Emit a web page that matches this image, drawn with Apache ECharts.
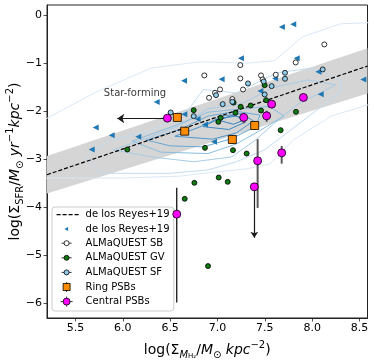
<!DOCTYPE html>
<html>
<head>
<meta charset="utf-8">
<script src="https://cdn.jsdelivr.net/npm/echarts@6/dist/echarts.min.js"></script>
<style>
  html, body { margin: 0; padding: 0; background: #fff; }
  #chart { width: 374px; height: 362px; }
</style>
</head>
<body>
<div id="chart"></div>
<script>
// de los Reyes+19 relation (dashed) and its grey scatter band
var relationX = [5.2, 8.584];
var relationY = [-3.32, -1.06];
var bandUpperY = [-2.93, -0.69];
var bandLowerY = [-3.71, -1.63];

var reyesPoints = [
  [7.68, -0.25], [7.80, -0.19], [7.248, -0.90], [7.836, -0.90], [6.647, -1.366],
  [7.044, -1.332], [8.065, -1.179], [8.54, -1.339], [6.358, -1.81], [7.453, -1.581],
  [8.09, -1.644], [5.714, -2.338], [5.883, -2.497], [6.164, -2.532], [5.672, -2.795],
  [6.65, -2.06], [6.79, -2.16], [6.868, -2.275], [6.963, -2.636], [7.608, -1.318]
];
var sbPoints = [
  [8.128, -0.61], [7.826, -0.985], [7.241, -1.04], [6.861, -1.255], [7.241, -1.318],
  [7.46, -1.255], [7.615, -1.241], [7.477, -1.339], [7.027, -1.547], [6.974, -1.616],
  [7.27, -1.547], [6.911, -1.72], [7.157, -1.748]
];
var gvPoints = [
  [6.048, -2.795], [6.749, -1.977], [7.034, -2.136], [7.009, -2.22], [7.189, -2.032],
  [7.245, -1.907], [7.35, -1.88], [7.46, -1.984], [7.513, -1.769], [7.498, -1.457],
  [7.829, -2.012], [7.667, -2.393], [6.868, -2.761], [7.164, -2.809], [7.308, -2.879],
  [6.756, -3.489], [7.013, -3.378], [7.108, -3.468], [6.654, -3.822], [6.90, -5.22],
  [7.17, -1.82]
];
var sfPoints = [
  [7.713, -1.2], [7.713, -1.325], [8.111, -1.13], [7.322, -1.422], [7.488, -1.38],
  [7.572, -1.477], [7.498, -1.651], [6.985, -1.665], [7.055, -1.852], [7.157, -1.803],
  [6.506, -2.025], [6.749, -2.102]
];
var ringPoints = [[6.576, -2.129], [6.654, -2.414], [7.393, -2.296], [7.157, -2.587]];
var ringErr = [0.07, 0.08, 0.09, 0.09];
var centralPoints = [
  [6.471, -2.143], [7.277, -2.129], [7.572, -1.852], [7.519, -2.095], [7.907, -1.713],
  [7.424, -3.031], [7.678, -2.865], [7.389, -3.572], [6.57, -4.14]
];
// [x, low, high]
var centralGreyBars = [[7.277, -2.25, -2.04], [7.519, -2.22, -1.99], [7.424, -4.01, -2.58], [7.678, -3.09, -2.72]];
var centralBlackBars = [[6.57, -5.98, -3.59]];
var limitArrow = [[7.389, -3.572], [7.389, -4.63]];
var sfArrow = [[6.464, -2.15], [5.942, -2.15]];
var sfLabel = [[6.129, -1.63]];

// density contours, outer to inner
var contourColors = ['#dae8f6', '#c4dcf0', '#a8cce6', '#8abde0', '#68a8d6', '#4f97cc', '#3f89c4', '#3a82c0'];
var contourLevels = [
  [[5.1, -2.25], [5.7, -1.62], [6.3, -1.1], [6.82, -0.97], [7.3, -1.0], [7.6, -0.95], [7.9, -0.45], [8.3, -0.18], [8.7, -0.15],
   [8.7, -1.8], [8.2, -2.1], [7.8, -2.6], [7.55, -3.1], [7.3, -3.2], [6.95, -3.27], [6.6, -3.35], [6.0, -3.39], [5.1, -3.39], [5.1, -2.25]],
  [[5.6, -2.95], [5.87, -2.6], [6.26, -2.43], [6.47, -2.25], [6.7, -1.95], [6.85, -1.55], [7.2, -1.62], [7.63, -1.2], [8.0, -1.1], [8.3, -1.35],
   [8.3, -1.6], [8.1, -1.9], [7.8, -2.35], [7.5, -2.8], [7.2, -3.05], [6.9, -3.22], [6.5, -3.29], [5.76, -3.29], [5.6, -2.95]],
  [[5.9, -2.8], [6.2, -2.6], [6.6, -2.3], [6.9, -1.95], [7.25, -1.85], [7.6, -1.5], [7.95, -1.35], [8.25, -1.45], [7.85, -1.85],
   [7.6, -2.25], [7.4, -2.6], [7.15, -2.95], [6.75, -3.05], [6.3, -2.95], [5.9, -2.8]],
  [[6.1, -2.62], [6.55, -2.3], [6.9, -2.02], [7.25, -1.95], [7.55, -1.9], [7.7, -2.1], [7.45, -2.4], [7.2, -2.68], [6.9, -2.88], [6.4, -2.85], [6.1, -2.62]],
  [[6.25, -2.6], [6.6, -2.38], [6.9, -2.1], [7.2, -2.0], [7.45, -2.08], [7.4, -2.32], [7.15, -2.57], [6.85, -2.74], [6.5, -2.72], [6.25, -2.6]],
  [[6.55, -2.52], [6.85, -2.3], [7.05, -2.1], [7.25, -2.05], [7.38, -2.2], [7.2, -2.45], [6.95, -2.58], [6.55, -2.52]],
  [[6.85, -2.32], [7.02, -2.15], [7.2, -2.1], [7.3, -2.22], [7.12, -2.38], [6.85, -2.32]],
  [[7.01, -2.185], [7.168, -2.08], [7.3, -2.17], [7.168, -2.27], [7.01, -2.185]]
];

var xTicks = [5.5, 6.0, 6.5, 7.0, 7.5, 8.0, 8.5];
var yTicks = [-6, -5, -4, -3, -2, -1, 0];

var FONT = 'DejaVu Sans';

function minus(v, digits) {
  var s = Math.abs(v).toFixed(digits);
  return (v < 0 ? '\u2212' : '') + s;
}

function barRender(color, width) {
  return function (params, api) {
    var top = api.coord([api.value(0), api.value(2)]);
    var bot = api.coord([api.value(0), api.value(1)]);
    return {
      type: 'line',
      shape: { x1: top[0], y1: top[1], x2: bot[0], y2: bot[1] },
      style: { stroke: color, lineWidth: width }
    };
  };
}

var ringBars = ringPoints.map(function (p, i) { return [p[0], p[1] - ringErr[i], p[1] + ringErr[i]]; });

var mathRich = {
  a: { fontFamily: FONT, fontSize: 14, lineHeight: 20, color: '#000' },
  i: { fontFamily: FONT, fontSize: 14, lineHeight: 20, fontStyle: 'italic', color: '#000' },
  b: { fontFamily: FONT, fontSize: 10, lineHeight: 12, verticalAlign: 'bottom', color: '#000' },
  bi: { fontFamily: FONT, fontSize: 10, lineHeight: 12, verticalAlign: 'bottom', fontStyle: 'italic', color: '#000' },
  c: { fontFamily: FONT, fontSize: 10, lineHeight: 12, verticalAlign: 'top', color: '#000' },
  d: { fontFamily: FONT, fontSize: 7, lineHeight: 8, verticalAlign: 'bottom', color: '#000' }
};

var series = [];

series.push({
  type: 'custom',
  name: 'band',
  silent: true,
  z: 1,
  data: [[relationX[0], bandUpperY[0], bandLowerY[0], relationX[1], bandUpperY[1], bandLowerY[1]]],
  renderItem: function (params, api) {
    var pts = [
      api.coord([api.value(0), api.value(1)]),
      api.coord([api.value(3), api.value(4)]),
      api.coord([api.value(3), api.value(5)]),
      api.coord([api.value(0), api.value(2)])
    ];
    return { type: 'polygon', shape: { points: pts }, style: { fill: '#d5d5d5' } };
  }
});

contourLevels.forEach(function (poly, k) {
  series.push({
    type: 'line',
    name: 'contour' + k,
    data: poly,
    symbol: 'none',
    silent: true,
    z: 2,
    lineStyle: { color: contourColors[k], width: 1 }
  });
});

series.push({
  type: 'line',
  name: 'de los Reyes+19',
  data: [[relationX[0], relationY[0]], [relationX[1], relationY[1]]],
  symbol: 'none',
  z: 3,
  lineStyle: { color: '#000', width: 1.2, type: [4, 2] },
  itemStyle: { color: '#000' }
});

series.push({
  type: 'scatter',
  name: 'de los Reyes+19 ',
  data: reyesPoints,
  symbol: 'triangle',
  symbolRotate: 90,
  symbolSize: 6,
  z: 4,
  itemStyle: { color: '#1f77b4', opacity: 1 }
});

series.push({
  type: 'custom', name: 'greyBars', silent: true, z: 5,
  data: centralGreyBars, renderItem: barRender('#5a5a5a', 2)
});
series.push({
  type: 'custom', name: 'blackBars', silent: true, z: 5,
  data: centralBlackBars, renderItem: barRender('#000', 1.2)
});
series.push({
  type: 'custom', name: 'ringBars', silent: true, z: 5,
  data: ringBars, renderItem: barRender('#000', 1)
});

series.push({
  type: 'lines',
  name: 'arrows',
  coordinateSystem: 'cartesian2d',
  silent: true,
  z: 5,
  symbol: ['none', 'arrow'],
  symbolSize: 6,
  lineStyle: { color: '#1a1a1a', width: 1.2, opacity: 1 },
  data: [{ coords: sfArrow, symbolSize: 7 }, { coords: limitArrow }]
});

var small = [
  { name: 'ALMaQUEST SB', data: sbPoints, color: '#ffffff' },
  { name: 'ALMaQUEST GV', data: gvPoints, color: '#0f7a0f' },
  { name: 'ALMaQUEST SF', data: sfPoints, color: '#8fcbe8' }
];
small.forEach(function (s) {
  series.push({
    type: 'scatter',
    name: s.name,
    data: s.data,
    symbol: 'circle',
    symbolSize: 5,
    z: 6,
    itemStyle: { color: s.color, borderColor: '#000', borderWidth: 0.8, opacity: 1 }
  });
});

series.push({
  type: 'scatter',
  name: 'Ring PSBs',
  data: ringPoints,
  symbol: 'rect',
  symbolSize: 8,
  z: 7,
  itemStyle: { color: '#ff8c00', borderColor: '#000', borderWidth: 0.8, opacity: 1 }
});
series.push({
  type: 'scatter',
  name: 'Central PSBs',
  data: centralPoints,
  symbol: 'circle',
  symbolSize: 8,
  z: 7,
  itemStyle: { color: '#ff00ff', borderColor: '#000', borderWidth: 0.8, opacity: 1 }
});

series.push({
  type: 'scatter',
  name: 'label',
  data: sfLabel,
  symbolSize: 0,
  silent: true,
  z: 8,
  label: {
    show: true, position: 'inside', formatter: 'Star-forming',
    fontFamily: FONT, fontSize: 10, color: '#000'
  }
});

// legend handles drawn in a 24x10 box
var BOX = 'M0,0M24,10';
var DOT = 'M5,5L7.5,5M12.5,5L15,5M12.5,5A2.5,2.5 0 1 1 7.5,5A2.5,2.5 0 1 1 12.5,5Z';
function handleStyle(fill) {
  return { color: fill, borderColor: '#000', borderWidth: 0.8 };
}
var legendData = [
  { name: 'de los Reyes+19', icon: 'path://' + BOX + 'M0,5L4,5M6,5L10,5M12,5L16,5M18,5L22,5',
    itemStyle: { color: 'transparent', borderColor: '#000', borderWidth: 1.2 } },
  { name: 'de los Reyes+19 ', icon: 'path://' + BOX + 'M7.8,5L11.5,3L11.5,7Z', itemStyle: { color: '#1f77b4', borderWidth: 0 } },
  { name: 'ALMaQUEST SB', icon: 'path://' + BOX + DOT, itemStyle: handleStyle('#ffffff') },
  { name: 'ALMaQUEST GV', icon: 'path://' + BOX + DOT, itemStyle: handleStyle('#0f7a0f') },
  { name: 'ALMaQUEST SF', icon: 'path://' + BOX + DOT, itemStyle: handleStyle('#8fcbe8') },
  { name: 'Ring PSBs', icon: 'path://' + BOX + 'M10,0L10,1.5M10,8.5L10,10M6.5,1.5L13.5,1.5L13.5,8.5L6.5,8.5Z', itemStyle: handleStyle('#ff8c00') },
  { name: 'Central PSBs', icon: 'path://' + BOX + 'M10,0L10,1.5M10,8.5L10,10M4,5L6.5,5M13.5,5L16,5M13.5,5A3.5,3.5 0 1 1 6.5,5A3.5,3.5 0 1 1 13.5,5Z', itemStyle: handleStyle('#ff00ff') }
];

var chart = echarts.init(document.getElementById('chart'), null, { renderer: 'canvas' });
chart.setOption({
  animation: false,
  backgroundColor: '#fff',
  grid: {
    left: 47, right: 6.5, top: 5, bottom: 44,
    outerBoundsMode: 'none',
    containLabel: false,
    show: true, borderColor: '#222', borderWidth: 1, backgroundColor: 'transparent'
  },
  legend: {
    data: legendData,
    orient: 'vertical',
    left: 52, top: 207,
    itemWidth: 24, itemHeight: 10, itemGap: 3.8,
    padding: [2, 1, 4, 4],
    backgroundColor: 'rgba(255,255,255,0.85)',
    borderColor: '#cccccc', borderWidth: 1, borderRadius: 3,
    selectedMode: false,
    textStyle: { fontFamily: FONT, fontSize: 10, color: '#000' },
    z: 6
  },
  xAxis: {
    type: 'value', min: 5.2, max: 8.584,
    splitLine: { show: false },
    axisLine: { show: true, onZero: false, lineStyle: { color: '#222', width: 1 } },
    axisTick: { show: true, customValues: xTicks, length: 3.5, lineStyle: { color: '#222', width: 0.8 } },
    axisLabel: {
      customValues: xTicks, margin: 5, fontFamily: FONT, fontSize: 11, color: '#000',
      formatter: function (v) { return minus(v, 1); }
    },
    name: '{a|log(Σ}{bi|M}{d|H₂}{a|/}{i|M}{b|⊙}{i| kpc}{c|−2}{a|)}',
    nameLocation: 'middle', nameGap: 22, nameMoveOverlap: false,
    nameTextStyle: { fontFamily: FONT, fontSize: 14, color: '#000', rich: mathRich }
  },
  yAxis: {
    type: 'value', min: -6.3, max: 0.21,
    splitLine: { show: false },
    axisLine: { show: true, onZero: false, lineStyle: { color: '#222', width: 1 } },
    axisTick: { show: true, customValues: yTicks, length: 3.5, lineStyle: { color: '#222', width: 0.8 } },
    axisLabel: {
      customValues: yTicks, margin: 5, fontFamily: FONT, fontSize: 11, color: '#000',
      formatter: function (v) { return minus(v, 0); }
    },
    name: '{a|log(Σ}{b|SFR}{a|/}{i|M}{b|⊙}{i| yr}{c|−1}{i|kpc}{c|−2}{a|)}',
    nameLocation: 'middle', nameRotate: 90, nameGap: 22, nameMoveOverlap: false,
    nameTextStyle: { fontFamily: FONT, fontSize: 14, color: '#000', rich: mathRich }
  },
  series: series
});
</script>
</body>
</html>
